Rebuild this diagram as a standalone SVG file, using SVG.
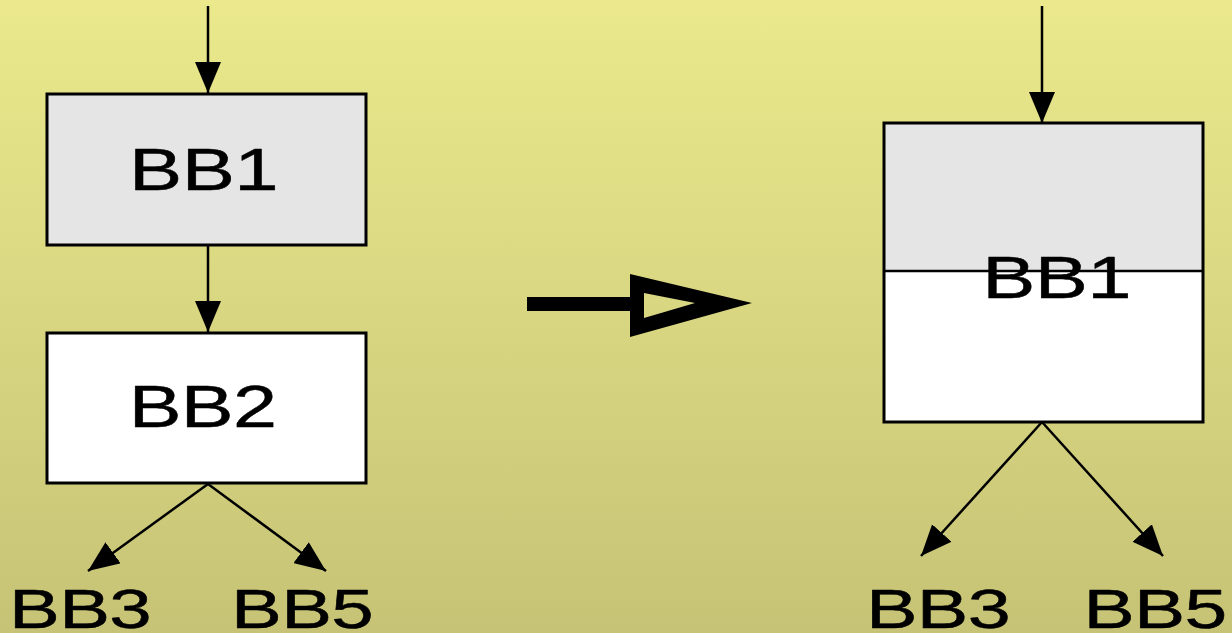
<svg xmlns="http://www.w3.org/2000/svg" width="1232" height="633" viewBox="0 0 1232 633">
<defs>
<linearGradient id="bg" x1="0" y1="0" x2="0" y2="1">
<stop offset="0" stop-color="#ebe98c"/>
<stop offset="1" stop-color="#c6c376"/>
</linearGradient>
<marker id="ah" viewBox="0 0 31 26" refX="31" refY="13" markerWidth="31" markerHeight="26" markerUnits="userSpaceOnUse" orient="auto">
<path d="M0,0 L31,13 L0,26 Z" fill="#000"/>
</marker>
<style>
.box{stroke:#000;stroke-width:3}
.grey{fill:#e5e5e5}
.white{fill:#fff}
.lbl{font-family:"Liberation Sans",Arial,sans-serif;fill:#000;stroke:#000;stroke-width:0.5;stroke-linejoin:round;text-anchor:middle;letter-spacing:-0.5px}
.edge{stroke:#000;stroke-width:2.5;fill:none;marker-end:url(#ah)}
</style>
</defs>
<rect x="0" y="0" width="1232" height="633" fill="url(#bg)"/>

<g id="left-bb1">
<rect class="box grey" x="47" y="94" width="319" height="151"/>
<text class="lbl" transform="translate(203.5,190) scale(1.33,1)" font-size="60">BB1</text>
</g>
<g id="left-bb2">
<rect class="box white" x="47" y="333" width="319" height="150"/>
<text class="lbl" transform="translate(202.5,427) scale(1.32,1)" font-size="60">BB2</text>
</g>
<g id="left-bb3">
<text class="lbl" transform="translate(80,627.5) scale(1.36,1)" font-size="56">BB3</text>
</g>
<g id="left-bb5">
<text class="lbl" transform="translate(302,627.5) scale(1.36,1)" font-size="56">BB5</text>
</g>

<g id="transform-arrow">
<rect x="527" y="297" width="104" height="14" fill="#000"/>
<path d="M630,274 L752,303 L630,337 Z M644,293 L644,318 L695,303 Z" fill="#000" fill-rule="evenodd"/>
</g>

<g id="right-bb1">
<rect class="grey" x="884" y="123" width="319" height="148"/>
<rect class="white" x="884" y="271" width="319" height="151"/>
<rect class="box" fill="none" x="884" y="123" width="319" height="299"/>
<line x1="884" y1="271" x2="1203" y2="271" stroke="#000" stroke-width="2.5"/>
<text class="lbl" transform="translate(1056.5,298) scale(1.35,1)" font-size="59">BB1</text>
</g>
<g id="right-bb3">
<text class="lbl" transform="translate(938,628) scale(1.38,1)" font-size="56">BB3</text>
</g>
<g id="right-bb5">
<text class="lbl" transform="translate(1155,628) scale(1.37,1)" font-size="56">BB5</text>
</g>

<g id="connectors">
<line class="edge" x1="208" y1="6" x2="208" y2="93"/>
<line class="edge" x1="208" y1="245" x2="208" y2="332"/>
<line class="edge" x1="208" y1="484" x2="88" y2="571"/>
<line class="edge" x1="208" y1="484" x2="326" y2="571"/>
<line class="edge" x1="1042" y1="6" x2="1042" y2="123"/>
<line class="edge" x1="1042" y1="422" x2="921" y2="556"/>
<line class="edge" x1="1042" y1="422" x2="1163" y2="556"/>
</g>
</svg>
